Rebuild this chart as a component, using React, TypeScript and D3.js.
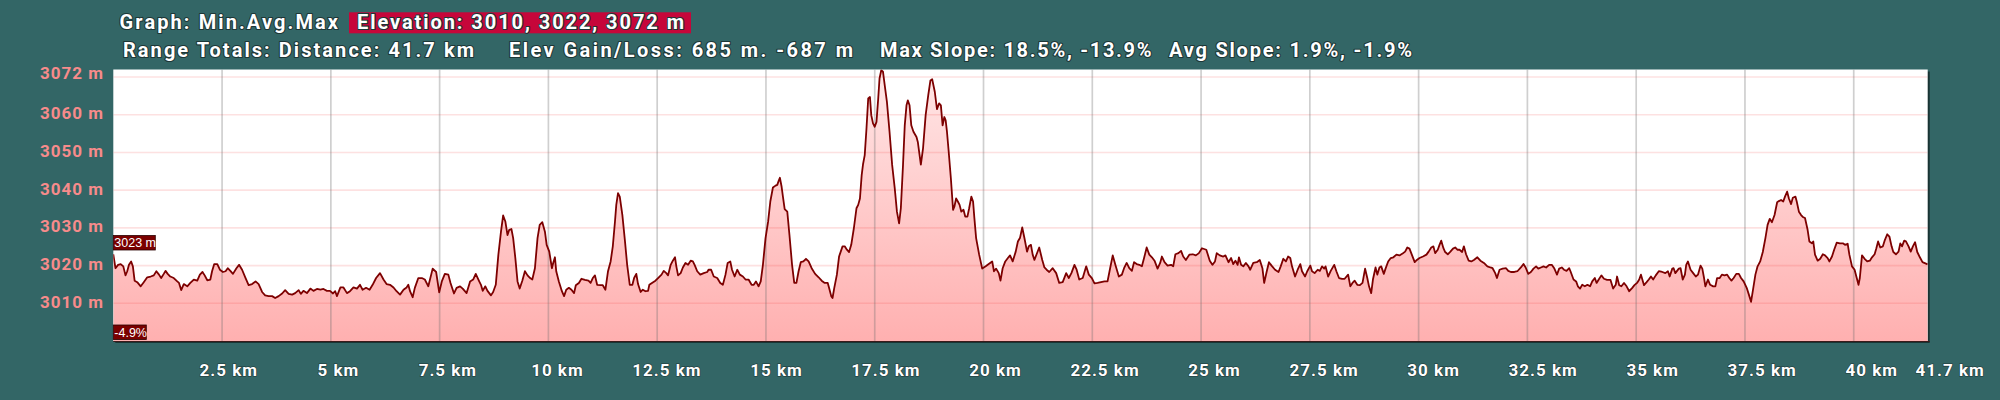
import React from "react";
import * as d3 from "d3";

// ---- data (distance km, elevation m) ----
const profilePoints: [number, number][] = [
  [0,3023],[0.05,3019.3],[0.11,3020.2],[0.17,3020.4],[0.23,3019.8],[0.28,3017.4],[0.32,3018.5],[0.36,3020.2],[0.41,3021.1],[0.45,3019.8],[0.49,3016],[0.55,3015.6],[0.63,3014.5],[0.70,3015.6],[0.78,3016.9],[0.86,3017.1],[0.93,3017.4],[0.99,3018.5],[1.05,3017.6],[1.10,3016.7],[1.16,3017.8],[1.20,3018.6],[1.25,3017.8],[1.31,3017.1],[1.39,3016.7],[1.47,3015.8],[1.51,3015.4],[1.56,3013.5],[1.62,3015.1],[1.70,3014.5],[1.77,3015.4],[1.85,3016.3],[1.93,3016],[1.99,3017.6],[2.05,3018.3],[2.10,3017.4],[2.16,3016.1],[2.23,3016.3],[2.27,3018.5],[2.32,3020.4],[2.39,3020.4],[2.45,3018.9],[2.52,3018.3],[2.58,3018.5],[2.63,3019.3],[2.69,3018.6],[2.75,3017.8],[2.83,3019.3],[2.89,3020.2],[2.96,3018.9],[3.04,3016.7],[3.11,3014.8],[3.19,3015.1],[3.27,3015.8],[3.34,3015.1],[3.42,3013],[3.49,3012.1],[3.57,3011.9],[3.65,3011.9],[3.72,3011.4],[3.80,3011.9],[3.88,3012.6],[3.95,3013.5],[4.03,3012.5],[4.11,3012.3],[4.18,3012.7],[4.26,3013.5],[4.31,3012.5],[4.37,3013.3],[4.45,3012.7],[4.53,3013.9],[4.60,3013.3],[4.68,3013.8],[4.76,3013.6],[4.83,3013.8],[4.91,3013.3],[4.98,3013.3],[5.05,3012.6],[5.10,3013.2],[5.14,3011.9],[5.22,3014.2],[5.29,3014.2],[5.37,3012.7],[5.44,3013.2],[5.52,3014.2],[5.60,3013.9],[5.67,3014.9],[5.73,3013.6],[5.81,3014.1],[5.89,3013.6],[5.96,3014.9],[6.04,3016.7],[6.13,3018],[6.21,3016.3],[6.28,3015.1],[6.36,3014.9],[6.44,3014.2],[6.51,3013.2],[6.59,3012.3],[6.67,3013.6],[6.74,3014.2],[6.78,3014.9],[6.82,3013.2],[6.88,3011.6],[6.93,3014.1],[7.01,3016.7],[7.09,3016.7],[7.16,3016.3],[7.24,3014.5],[7.34,3019.2],[7.42,3018.3],[7.49,3012.9],[7.55,3015.8],[7.62,3017.8],[7.70,3017.6],[7.75,3015.4],[7.83,3012.6],[7.89,3014.1],[7.97,3014.5],[8.03,3013.9],[8.12,3012.7],[8.20,3015.8],[8.27,3016.3],[8.33,3017.8],[8.41,3015.8],
  [8.45,3014.9],[8.49,3013.3],[8.55,3014.5],[8.60,3013.3],[8.68,3012.1],[8.73,3013],[8.79,3014.9],[8.85,3022.9],[8.91,3029],[8.96,3033.3],[9.01,3031.7],[9.06,3028.1],[9.10,3029.5],[9.15,3029.7],[9.19,3027.3],[9.24,3022],[9.29,3015.8],[9.34,3013.9],[9.40,3016],[9.46,3018.5],[9.52,3017.4],[9.58,3016.7],[9.63,3016.3],[9.69,3019.3],[9.75,3027.3],[9.80,3030.8],[9.86,3031.5],[9.92,3029],[9.96,3025.5],[10.02,3023.7],[10.08,3019.3],[10.11,3020.7],[10.15,3022.2],[10.18,3018.5],[10.24,3015.8],[10.31,3013.2],[10.36,3011.9],[10.41,3013.6],[10.47,3014.1],[10.53,3013.6],[10.59,3012.7],[10.63,3014.8],[10.70,3015.4],[10.76,3016.5],[10.84,3016.2],[10.92,3016],[10.97,3015.4],[11.02,3016.7],[11.07,3017.4],[11.12,3014.9],[11.20,3014.8],[11.25,3014.8],[11.31,3013.6],[11.37,3018.5],[11.43,3021.1],[11.48,3025.1],[11.53,3031.7],[11.56,3036.1],[11.60,3039.2],[11.64,3038.3],[11.70,3033.4],[11.76,3026.4],[11.81,3020.2],[11.87,3014.9],[11.93,3014.9],[11.97,3016.7],[12.02,3017.8],[12.06,3015.1],[12.12,3013],[12.17,3013.6],[12.23,3013.2],[12.29,3013.3],[12.32,3014.9],[12.38,3015.4],[12.46,3016],[12.52,3016.7],[12.60,3017.6],[12.65,3018.6],[12.71,3018],[12.75,3017.4],[12.81,3020.2],[12.86,3021.3],[12.91,3022.2],[12.94,3019.8],[12.98,3017.4],[13.04,3018],[13.09,3019.5],[13.15,3020.7],[13.21,3020.2],[13.27,3021.3],[13.32,3021.1],[13.36,3020.2],[13.42,3018.5],[13.49,3017.6],[13.57,3018],[13.65,3018.3],[13.68,3018.9],[13.74,3018.9],[13.80,3017.1],[13.88,3016.7],[13.95,3015.4],[14.01,3014.9],[14.07,3017.6],[14.12,3020.7],[14.18,3021.1],[14.22,3018.9],[14.28,3017.1],[14.34,3018.9],[14.40,3017.6],[14.47,3017.1],[14.53,3016.3],[14.60,3016.3],[14.67,3014.9],[14.72,3014.9],[14.77,3015.8],[14.83,3014.5],[14.88,3015.8],[14.93,3020.2],[14.99,3027.3],[15.05,3031.7],[15.10,3037],[15.16,3040.7],[15.22,3041.2],[15.26,3041.4],[15.29,3042.4],[15.32,3043.3],[15.36,3040.9],[15.39,3038.3],[15.43,3035],[15.49,3034.3],[15.54,3028.1],[15.60,3020.2],[15.65,3015.4],[15.70,3015.4],[15.75,3018.5],[15.80,3020.9],[15.86,3021.1],[15.92,3021.8],[15.98,3021.1],[16.05,3019.3],[16.13,3017.8],[16.21,3016.9],[16.28,3016],[16.35,3015.4],[16.42,3015.4],[16.45,3014.1],[16.50,3011.9],[16.53,3011.4],[16.57,3014.1],[16.63,3017.6],[16.68,3022.4],
  [16.76,3025.1],[16.81,3025.1],[16.86,3024.2],[16.91,3023.6],[16.96,3025.5],[17.02,3029.9],[17.08,3035.2],[17.12,3036.1],[17.16,3037.8],[17.20,3044],[17.23,3046.8],[17.27,3049.3],[17.31,3056.3],[17.35,3064.3],[17.39,3064.7],[17.42,3059.9],[17.46,3057.7],[17.50,3056.8],[17.54,3058.1],[17.58,3064.3],[17.61,3069.6],[17.65,3071.8],[17.69,3071.4],[17.73,3067.8],[17.78,3063.4],[17.84,3055.5],[17.90,3046.7],[17.96,3040.5],[18.01,3034.3],[18.06,3031.2],[18.10,3035.2],[18.15,3046.7],[18.19,3057.2],[18.23,3062.5],[18.26,3063.8],[18.30,3062.5],[18.34,3057.2],[18.39,3055.5],[18.46,3054.1],[18.49,3052.8],[18.56,3046.8],[18.61,3051.1],[18.67,3059.9],[18.73,3065.2],[18.78,3069.1],[18.82,3069.4],[18.88,3066.1],[18.93,3061.5],[18.98,3063],[19.02,3062.5],[19.06,3057.2],[19.10,3059.4],[19.13,3058.5],[19.16,3055.5],[19.20,3050.2],[19.25,3043.1],[19.30,3034.8],[19.33,3035.6],[19.37,3037.8],[19.41,3037],[19.45,3036.1],[19.49,3034.3],[19.54,3034.8],[19.58,3033],[19.63,3033],[19.67,3035.2],[19.72,3038.3],[19.76,3037],[19.79,3032.6],[19.83,3027.3],[19.90,3022.9],[19.97,3019.2],[20.05,3019.8],[20.12,3020.4],[20.20,3021.1],[20.24,3018.5],[20.29,3019.2],[20.35,3018],[20.39,3016],[20.44,3019.3],[20.50,3021.1],[20.56,3022],[20.61,3022.7],[20.67,3021.1],[20.74,3023.7],[20.79,3026.4],[20.84,3027.4],[20.89,3030.1],[20.94,3027.3],[21.00,3023.7],[21.04,3025.1],[21.09,3025.5],[21.13,3022.9],[21.17,3021.5],[21.22,3023],[21.28,3024.8],[21.35,3021.5],[21.40,3019.5],[21.45,3018.9],[21.51,3018.3],[21.59,3019.3],[21.67,3018],[21.74,3015.4],[21.82,3015.6],[21.90,3018],[21.96,3016.7],[22.02,3018],[22.09,3020.2],[22.14,3018.9],[22.20,3016.3],[22.28,3016.7],[22.36,3019.8],[22.42,3017.6],[22.49,3016.7],[22.55,3015.3],[22.62,3015.4],[22.70,3015.6],[22.78,3015.8],[22.85,3015.8],[22.91,3019.3],[22.97,3022.7],[23.03,3020.2],[23.11,3017.1],[23.18,3017.6],[23.23,3019.3],[23.29,3020.7],[23.35,3019.3],[23.41,3018.6],[23.46,3020.9],[23.52,3020.4],[23.58,3020.2],[23.64,3019.8],[23.69,3022],[23.75,3024.8],[23.81,3022.9],[23.87,3022.2],[23.93,3021.3],[24.00,3019.2],[24.06,3020.7],[24.10,3022.4],[24.16,3020.9],[24.23,3020],[24.31,3020.2],[24.36,3019.8],[24.41,3023],[24.48,3023.3],[24.54,3023.9],[24.59,3022.4],[24.65,3021.5],[24.73,3022.9],[24.81,3023],[24.88,3022.7],[24.95,3023.3],[25.02,3024.6],[25.12,3024.2],
  [25.20,3021.3],[25.26,3020.2],[25.32,3021.1],[25.36,3023.3],[25.43,3022.7],[25.51,3022.4],[25.56,3022.7],[25.63,3020.9],[25.69,3022],[25.74,3020.4],[25.79,3021.3],[25.84,3020.2],[25.87,3022.2],[25.92,3020.2],[25.97,3019.8],[26.03,3020.7],[26.09,3019.8],[26.13,3018.9],[26.20,3020.7],[26.28,3020.9],[26.35,3021.5],[26.41,3019.3],[26.45,3015.4],[26.51,3018.5],[26.56,3020.9],[26.62,3020],[26.70,3018.9],[26.78,3018.3],[26.83,3019.8],[26.89,3021.8],[26.95,3021.1],[27.00,3022.4],[27.05,3022],[27.09,3019.8],[27.16,3017.1],[27.22,3018.9],[27.28,3020.4],[27.32,3018.5],[27.39,3017.1],[27.44,3018.5],[27.51,3020],[27.55,3018.5],[27.61,3018],[27.68,3018.9],[27.73,3018.6],[27.78,3019.8],[27.83,3019.2],[27.86,3019.8],[27.92,3017.1],[27.98,3018.6],[28.06,3020.2],[28.11,3018.5],[28.17,3016.7],[28.24,3016.5],[28.30,3016.5],[28.38,3017.6],[28.43,3014.5],[28.48,3015.4],[28.53,3016],[28.59,3014.9],[28.65,3014.8],[28.71,3015.4],[28.77,3019.2],[28.82,3016.7],[28.86,3014.5],[28.91,3012.7],[28.95,3016.3],[29.01,3019.5],[29.05,3017.6],[29.10,3019.5],[29.14,3019.8],[29.20,3017.8],[29.24,3019.2],[29.30,3021.1],[29.36,3022],[29.42,3022.2],[29.49,3022.9],[29.56,3022.7],[29.64,3023.3],[29.69,3023.7],[29.74,3024.8],[29.79,3024.5],[29.85,3022.7],[29.91,3020.9],[29.96,3021.5],[30.02,3022],[30.10,3022.4],[30.18,3022.9],[30.23,3023.7],[30.29,3024.8],[30.34,3025.1],[30.38,3023.3],[30.44,3024.2],[30.48,3025.5],[30.52,3026.6],[30.57,3024.6],[30.61,3023.6],[30.67,3023],[30.73,3023.7],[30.79,3024.5],[30.84,3024.8],[30.89,3024.2],[30.94,3024.2],[31.00,3023.6],[31.04,3025.1],[31.09,3023],[31.15,3021.3],[31.21,3021.1],[31.27,3021.5],[31.35,3022.2],[31.42,3021.3],[31.50,3020.7],[31.58,3019.8],[31.65,3019.5],[31.70,3019.3],[31.76,3018],[31.80,3016.7],[31.86,3018.9],[31.93,3019.2],[32.01,3019.3],[32.06,3018.6],[32.12,3018.3],[32.20,3018.3],[32.27,3018.5],[32.35,3019.5],[32.41,3020.4],[32.46,3019.5],[32.52,3017.8],[32.58,3018.3],[32.64,3019.2],[32.70,3019.8],[32.75,3019.2],[32.81,3019.5],[32.87,3019.8],[32.93,3019.5],[33.00,3020.2],[33.06,3020.2],[33.12,3019.2],[33.18,3017.6],[33.23,3019.2],[33.29,3019.5],
  [33.34,3018.9],[33.40,3018.6],[33.46,3019.3],[33.49,3018.5],[33.56,3016.3],[33.62,3015.8],[33.66,3014.5],[33.71,3013.9],[33.76,3014.9],[33.82,3014.5],[33.88,3014.9],[33.94,3014.5],[33.99,3015.8],[34.05,3016.7],[34.09,3015.4],[34.14,3016.3],[34.20,3017.4],[34.26,3016.5],[34.33,3016.2],[34.41,3016.2],[34.47,3013.9],[34.53,3014.9],[34.56,3017.1],[34.61,3014.8],[34.66,3014.5],[34.72,3015.4],[34.78,3014.5],[34.84,3013.2],[34.91,3014.1],[34.96,3014.8],[35.02,3015.4],[35.07,3016.3],[35.11,3017.6],[35.18,3014.8],[35.24,3015.6],[35.29,3016.3],[35.34,3017.1],[35.39,3016.3],[35.45,3017.4],[35.52,3018.5],[35.60,3018.3],[35.67,3018],[35.73,3018.5],[35.77,3017.1],[35.83,3019.2],[35.86,3019.3],[35.90,3018],[35.94,3018.6],[35.98,3019.2],[36.02,3019.3],[36.07,3016.3],[36.12,3017.6],[36.15,3020.2],[36.19,3021.1],[36.25,3018.9],[36.31,3018],[36.37,3017.1],[36.42,3017.6],[36.48,3020],[36.52,3019.2],[36.56,3016.7],[36.59,3014.5],[36.65,3016.3],[36.70,3014.9],[36.77,3014.5],[36.82,3014.5],[36.86,3016.7],[36.92,3016.7],[36.97,3017.6],[37.03,3017.4],[37.09,3017.6],[37.14,3016.7],[37.19,3016],[37.24,3016.7],[37.30,3017.8],[37.36,3017.8],[37.41,3016.7],[37.47,3015.8],[37.54,3014.1],[37.59,3012.3],[37.64,3010.4],[37.68,3013.2],[37.74,3017.6],[37.79,3019.8],[37.85,3021.1],[37.91,3023.6],[37.97,3027.3],[38.02,3030.8],[38.07,3032.4],[38.12,3031.5],[38.18,3033.4],[38.24,3036.8],[38.28,3037.1],[38.33,3037.4],[38.38,3037],[38.42,3038.3],[38.47,3039.6],[38.51,3037.8],[38.56,3036.3],[38.60,3038],[38.66,3038.3],[38.69,3037],[38.74,3034.3],[38.79,3033.4],[38.83,3032.9],[38.88,3032.6],[38.94,3029.5],[38.98,3026.4],[39.04,3025.9],[39.07,3026.4],[39.11,3022.9],[39.17,3021.3],[39.23,3021.8],[39.29,3023],[39.34,3022.7],[39.40,3022],[39.44,3021.1],[39.50,3022.4],[39.55,3024.2],[39.61,3026.1],[39.68,3025.9],[39.75,3025.9],[39.80,3025.5],[39.86,3025.8],[39.90,3022.9],[39.96,3019.8],[40.02,3018.9],[40.06,3017.1],[40.11,3014.9],[40.14,3016.7],[40.19,3022.7],[40.25,3021.8],[40.31,3021.1],[40.37,3021.3],[40.42,3022.2],[40.48,3023],[40.52,3024.6],[40.56,3026.4],[40.61,3024.8],[40.67,3025.1],[40.71,3026.6],[40.77,3028.3],[40.82,3027.7],[40.87,3025.1],[40.91,3023.6],[40.97,3023],[41.03,3023.7],[41.07,3025.9],[41.11,3025.1],[41.16,3026.6],[41.20,3026.4],[41.26,3025.1],[41.31,3023.7],[41.36,3025.1],[41.41,3026.2],[41.46,3023.6],[41.52,3022.2],[41.58,3020.9],[41.7,3020.3],
];

const xTicks = [2.5, 5, 7.5, 10, 12.5, 15, 17.5, 20, 22.5, 25, 27.5, 30, 32.5, 35, 37.5, 40];
const xEndValue = 41.7;
const xTickLabels = xTicks.map((v) => `${v} km`);
const xEndLabel = "41.7 km";
const yTicks = [3010, 3020, 3030, 3040, 3050, 3060];
const yGridLines = [3010, 3020, 3030, 3040, 3050, 3060, 3070];
const yMin = 3000;
const yMax = 3072;
const yTopLabel = "3072 m";

const headerLine1 = ["Graph: Min.Avg.Max", "Elevation: 3010, 3022, 3072 m"];
const headerLine2 = [
  "Range Totals: Distance: 41.7 km",
  "Elev Gain/Loss: 685 m. -687 m",
  "Max Slope: 18.5%, -13.9%",
  "Avg Slope: 1.9%, -1.9%",
];
const startElevLabel = "3023 m";
const slopeLabel = "-4.9%";

// ---- layout ----
const W = 2000;
const H = 400;
const PL = 113.3;
const PR = 1927.7;
const PT = 69.5;
const PB = 341;
const BG = "#336666";
const FONT = "Roboto, 'DejaVu Sans', sans-serif";

const line1Pos = [
  { x: 119.6, w: 218.4 },
  { x: 357, w: 327 },
];
const line2Pos = [
  { x: 123, w: 351 },
  { x: 509, w: 344 },
  { x: 880, w: 271.5 },
  { x: 1169, w: 243 },
];

export default function App() {
  const x = d3.scaleLinear().domain([0, xEndValue]).range([PL, PR]);
  const y = d3.scaleLinear().domain([yMin, yMax]).range([PB, PT]);

  const area = d3
    .area<[number, number]>()
    .x((d) => x(d[0]))
    .y0(y(yMin))
    .y1((d) => y(d[1]));
  const line = d3
    .line<[number, number]>()
    .x((d) => x(d[0]))
    .y((d) => y(d[1]));

  const headerStyle = {
    fontFamily: FONT,
    fontWeight: 700,
    fontSize: 20,
    fill: "#ffffff",
    stroke: "#1d3636",
    strokeWidth: 2.2,
    paintOrder: "stroke",
    strokeLinejoin: "round",
  } as React.CSSProperties;

  const labelX = (v: number) => x(v) + 6 + 0.3 * v;

  return (
    <svg
      width={W}
      height={H}
      style={{ position: "absolute", left: 0, top: 0, display: "block" }}
    >
      <defs>
        <linearGradient id="fillGrad" gradientUnits="userSpaceOnUse" x1={0} y1={PT} x2={0} y2={PB}>
          <stop offset="0%" stopColor="#ffe6e6" />
          <stop offset="100%" stopColor="#ffb0b0" />
        </linearGradient>
        <clipPath id="plotClip">
          <rect x={PL} y={PT} width={PR - PL} height={PB - PT} />
        </clipPath>
      </defs>
      <rect x={0} y={0} width={W} height={H} fill={BG} />

      {/* header */}
      <rect x={349} y={12.3} width={342} height={21} fill="#c6063a" />
      {headerLine1.map((t, i) => (
        <text
          key={"h1" + i}
          x={line1Pos[i].x}
          y={28.5}
          textLength={line1Pos[i].w}
          lengthAdjust="spacing"
          style={headerStyle}
        >
          {t}
        </text>
      ))}
      {headerLine2.map((t, i) => (
        <text
          key={"h2" + i}
          x={line2Pos[i].x}
          y={57.3}
          textLength={line2Pos[i].w}
          lengthAdjust="spacing"
          style={headerStyle}
        >
          {t}
        </text>
      ))}

      {/* plot shadow and background */}
      <rect x={PL + 2} y={PT + 2} width={PR - PL} height={PB - PT} fill="#152a2a" opacity={0.85} />
      <rect x={PL} y={PT} width={PR - PL} height={PB - PT} fill="#ffffff" />

      <g clipPath="url(#plotClip)">
        <path d={area(profilePoints) || ""} fill="url(#fillGrad)" />
        {yGridLines.map((v) => (
          <line
            key={"hg" + v}
            x1={PL}
            x2={PR}
            y1={y(v)}
            y2={y(v)}
            stroke="rgba(240,70,70,0.16)"
            strokeWidth={1.6}
          />
        ))}
        {xTicks.map((v) => (
          <line
            key={"vg" + v}
            x1={x(v)}
            x2={x(v)}
            y1={PT}
            y2={PB}
            stroke="rgba(110,110,110,0.33)"
            strokeWidth={1.7}
          />
        ))}
        <path d={line(profilePoints) || ""} fill="none" stroke="#7d0000" strokeWidth={1.8} strokeLinejoin="round" />
      </g>
      <line x1={PL} x2={PR + 2} y1={PB + 0.5} y2={PB + 0.5} stroke="#3a1a1a" strokeWidth={1.2} />

      {/* y labels */}
      {yTicks.map((v) => (
        <text
          key={"yl" + v}
          x={104}
          y={y(v) + 4.5}
          textAnchor="end"
          style={{ fontFamily: FONT, fontWeight: 700, fontSize: 17, letterSpacing: 1, fill: "#f78b8b" }}
        >
          {`${v} m`}
        </text>
      ))}
      <text
        x={104}
        y={Math.max(y(yMax) + 4.5, 79.3)}
        textAnchor="end"
        style={{ fontFamily: FONT, fontWeight: 700, fontSize: 17, letterSpacing: 1, fill: "#f78b8b" }}
      >
        {yTopLabel}
      </text>

      {/* x labels */}
      {xTicks.map((v, i) => (
        <text
          key={"xl" + v}
          x={labelX(v)}
          y={375.7}
          textAnchor="middle"
          style={{
            fontFamily: FONT,
            fontWeight: 700,
            fontSize: 17,
            letterSpacing: 1,
            fill: "#ffffff",
            stroke: "#1d3636",
            strokeWidth: 1.2,
            paintOrder: "stroke",
          } as React.CSSProperties}
        >
          {xTickLabels[i]}
        </text>
      ))}
      <text
        x={x(xEndValue) + 22.5}
        y={375.7}
        textAnchor="middle"
        style={{
          fontFamily: FONT,
          fontWeight: 700,
          fontSize: 17,
          letterSpacing: 1,
          fill: "#ffffff",
          stroke: "#1d3636",
          strokeWidth: 1.2,
          paintOrder: "stroke",
        } as React.CSSProperties}
      >
        {xEndLabel}
      </text>

      {/* start annotations */}
      <rect x={PL} y={235.5} width={42} height={14.5} fill="#7a0000" stroke="#2a0000" strokeWidth={0.8} />
      <text x={PL + 1} y={247.3} style={{ fontFamily: "'Liberation Sans', Arial, sans-serif", fontSize: 12.5, fill: "#ffffff" }}>
        {startElevLabel}
      </text>
      <rect x={PL} y={325} width={33} height={14.5} fill="#7a0000" stroke="#2a0000" strokeWidth={0.8} />
      <text x={PL + 1} y={336.8} style={{ fontFamily: "'Liberation Sans', Arial, sans-serif", fontSize: 12.5, fill: "#ffffff" }}>
        {slopeLabel}
      </text>
    </svg>
  );
}
